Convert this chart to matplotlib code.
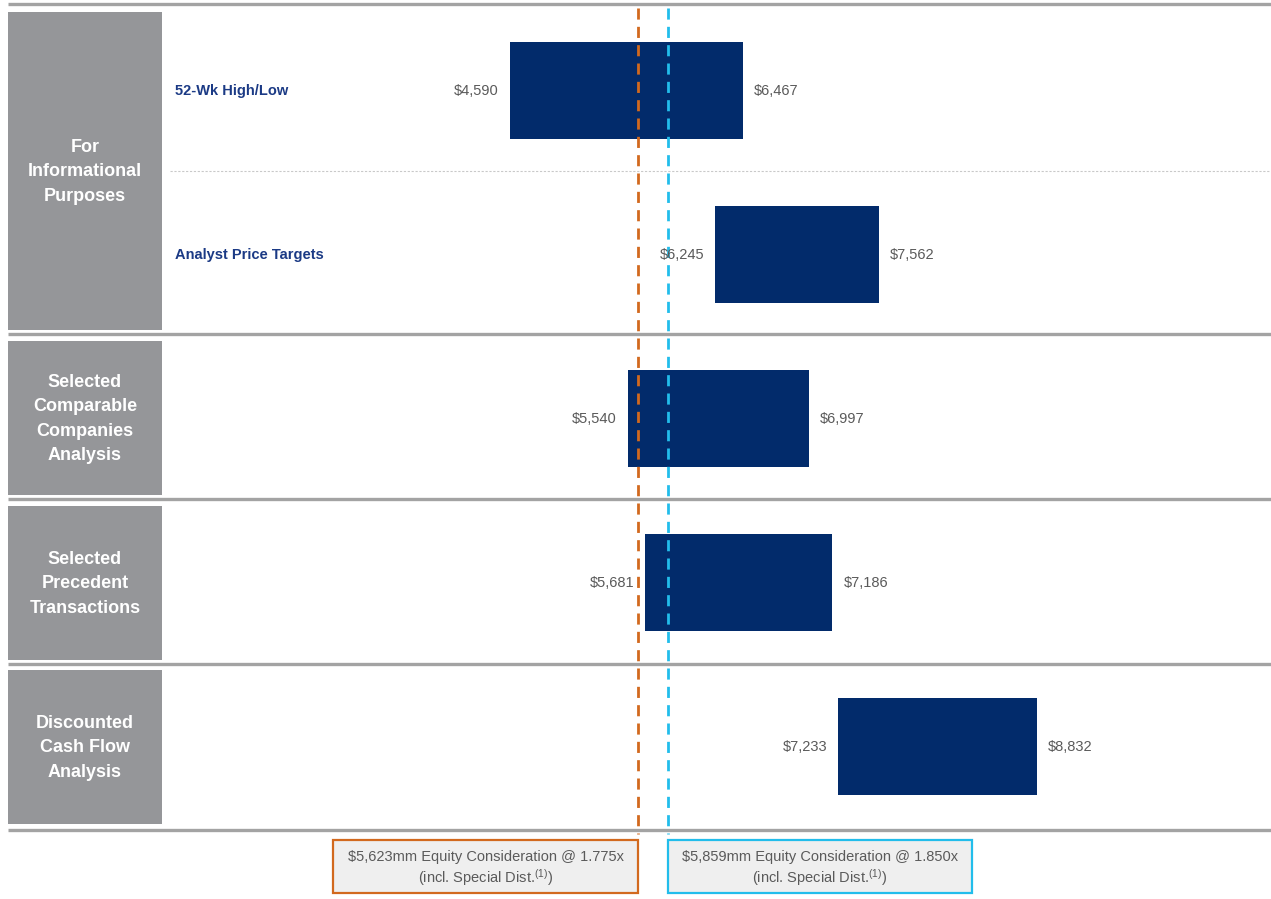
import matplotlib
matplotlib.use('Agg')
import matplotlib.pyplot as plt
from matplotlib.patches import Rectangle
from matplotlib.transforms import blended_transform_factory

plt.rcParams['font.family'] = ['Liberation Sans', 'DejaVu Sans']
plt.rcParams['mathtext.default'] = 'regular'

# Implied equity value ranges ($mm) for each valuation method
methods = ['52-Wk High/Low', 'Analyst Price Targets',
           'Selected Comparable Companies Analysis',
           'Selected Precedent Transactions',
           'Discounted Cash Flow Analysis']
lows = [4590, 6245, 5540, 5681, 7233]
highs = [6467, 7562, 6997, 7186, 8832]

sections = ['For\nInformational\nPurposes',
            'Selected\nComparable\nCompanies\nAnalysis',
            'Selected\nPrecedent\nTransactions',
            'Discounted\nCash Flow\nAnalysis']

# Equity consideration at the two exchange ratios ($mm)
offers = [5623, 5859]
ratios = ['1.775x', '1.850x']

NAVY = '#022b6b'
GREY_BOX = '#959699'
RULE = '#a3a3a3'
VAL = '#5a5a5a'
OFFER_COLORS = ['#d2691e', '#22bdeb']

W, H = 1271, 899
fig = plt.figure(figsize=(W / 100, H / 100), dpi=100)
ax = fig.add_axes([0, 0, 1, 1])
ax.set_xlim(481, 10721)
ax.set_ylim(H, 0)
ax.axis('off')
# x in figure-pixel fraction, y in the same pixel rows as the bars
tr = blended_transform_factory(ax.transAxes, ax.transData)

row_y = [90.5, 254.5, 418.5, 582.5, 746.5]
bar_h = 97

# horizontal rules between sections
for y in [4, 334, 499, 664, 830]:
    ax.plot([8 / W, 1], [y, y], color=RULE, lw=2.4, transform=tr,
            solid_capstyle='butt', zorder=1)
ax.plot([170 / W, 1], [171, 171], color='#c9c9c9', lw=0.8, ls=(0, (2, 1.5)),
        transform=tr, zorder=1)

# grey section headers
bounds = [(12, 330), (341, 495), (506, 660), (670, 824)]
for (top, bot), name in zip(bounds, sections):
    ax.add_patch(Rectangle((8 / W, top), 154 / W, bot - top, transform=tr,
                           facecolor=GREY_BOX, edgecolor='none', zorder=2))
    ax.text(85 / W, (top + bot) / 2 + 1, name, transform=tr, ha='center',
            va='center', color='white', fontsize=13, fontweight='bold',
            linespacing=1.58, zorder=3)

# sub-labels in the informational section
for i in range(2):
    ax.text(175 / W, row_y[i] + 1, methods[i], transform=tr, ha='left',
            va='center', color='#1b3a85', fontsize=10.5, fontweight='bold')

# floating range bars
ax.barh(row_y, [h - l for l, h in zip(lows, highs)], left=lows,
        height=bar_h, color=NAVY, zorder=3)
for y, lo, hi in zip(row_y, lows, highs):
    ax.annotate(f'${lo:,}', (lo, y), xytext=(-8, -0.5), textcoords='offset points',
                ha='right', va='center', color=VAL, fontsize=10.5, zorder=6)
    ax.annotate(f'${hi:,}', (hi, y), xytext=(8, -0.5), textcoords='offset points',
                ha='left', va='center', color=VAL, fontsize=10.5, zorder=6)

# reference lines for the offer values
for v, c in zip(offers, OFFER_COLORS):
    ax.plot([v, v], [8, 834], color=c, lw=2, ls=(0, (4, 2.6)), zorder=5)

# captions under each reference line
box_w = 2457
for i, (v, r, c) in enumerate(zip(offers, ratios, OFFER_COLORS)):
    left = v - box_w if i == 0 else v
    ax.add_patch(Rectangle((left, 840), box_w, 53, facecolor='#efefef',
                           edgecolor=c, lw=1.6, zorder=4))
    cx = left + box_w / 2
    ax.text(cx, 857, f'${v:,}mm Equity Consideration @ {r}', ha='center',
            va='center', color=VAL, fontsize=10.5, zorder=5)
    ax.text(cx, 878, r'(incl. Special Dist.$^{(1)}$)', ha='center',
            va='center', color=VAL, fontsize=10.5, zorder=5)

fig.savefig('out.png', dpi=100)
